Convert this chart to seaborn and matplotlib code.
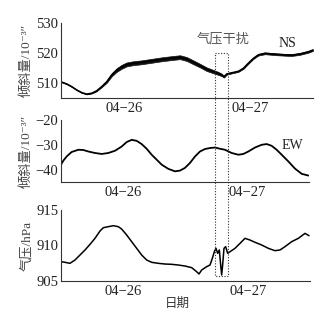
import numpy as np
import pandas as pd
import matplotlib
matplotlib.use("Agg")
import matplotlib.pyplot as plt
from matplotlib.lines import Line2D
import seaborn as sns

# ---- data (hours since 04-26 00:00) ----
ns_hours = [0, 1.08, 2.03, 2.98, 3.94, 4.89, 5.84, 6.79, 7.75, 8.70, 9.65, 10.60,
            11.56, 12.51, 13.78, 15.37, 17.27, 19.17, 21.08, 22.67, 23.94, 25.21,
            26.48, 27.75, 29.02, 29.97, 30.60, 31.05, 31.55, 32.51, 33.78, 34.73,
            35.68, 36.63, 37.59, 38.86, 40.76, 42.67, 43.94, 45.52, 47.11, 48.0]
ns_values = [510.4, 509.7, 508.8, 507.7, 506.8, 506.3, 506.6, 507.4, 508.8, 510.4,
             512.7, 514.3, 515.4, 516.2, 516.6, 516.9, 517.4, 517.9, 518.3, 518.6,
             518.0, 516.9, 515.8, 514.6, 513.8, 513.2, 512.7, 512.1, 513.0, 513.4,
             513.9, 514.9, 516.6, 518.2, 519.4, 519.9, 519.6, 519.4, 519.3, 519.7,
             520.4, 521.0]
ns_spread = [0.1, 0.1, 0.1, 0.1, 0.1, 0.1, 0.1, 0.15, 0.2, 0.35, 0.5, 0.6,
             0.65, 0.65, 0.65, 0.65, 0.65, 0.65, 0.65, 0.65, 0.65, 0.65,
             0.6, 0.6, 0.55, 0.5, 0.4, 0.3, 0.25, 0.2, 0.2, 0.2,
             0.2, 0.2, 0.25, 0.3, 0.3, 0.3, 0.3, 0.3, 0.3, 0.3]

ew_hours = [0, 0.45, 1.10, 2.06, 3.36, 4.32, 5.29, 6.58, 7.87, 9.16, 10.45, 11.74,
            12.71, 13.68, 14.65, 15.61, 16.58, 17.55, 18.52, 19.48, 20.77, 22.06,
            23.03, 24.0, 24.97, 25.94, 26.9, 27.87, 28.84, 29.81, 30.77, 31.74,
            33.03, 34.32, 35.29, 36.26, 37.55, 38.84, 39.81, 40.77, 41.74, 42.71,
            44.0, 45.29, 46.58, 47.87]
ew_values = [-38.0, -36.4, -34.7, -32.9, -32.0, -32.1, -32.7, -33.3, -33.7, -33.3,
             -32.4, -30.7, -28.9, -28.0, -28.4, -29.7, -31.6, -34.0, -36.0, -38.0,
             -39.7, -40.7, -40.4, -39.3, -37.3, -34.7, -32.7, -31.7, -31.3, -31.1,
             -31.6, -32.0, -33.3, -34.0, -33.7, -32.7, -31.1, -30.0, -29.7, -30.4,
             -32.0, -34.0, -36.7, -39.6, -41.7, -42.4]

p_hours = [0.0, 0.77, 1.73, 2.70, 3.66, 4.63, 5.59, 6.55, 7.52, 8.16, 9.12, 10.09,
           11.05, 11.69, 12.66, 13.62, 14.59, 15.55, 16.51, 17.48, 18.76, 20.05,
           21.33, 22.62, 23.90, 25.19, 26.15, 26.60, 27.12, 28.08, 28.72, 29.17,
           29.56, 29.88, 30.20, 30.52, 30.78, 30.97, 31.16, 31.42, 31.74, 32.13,
           32.58, 33.54, 34.51, 35.47, 36.43, 37.40, 38.68, 39.97, 41.25, 42.22,
           43.18, 44.47, 45.75, 47.04, 47.81]
p_values = [907.72, 907.63, 907.49, 907.96, 908.66, 909.37, 910.16, 911.01, 912.04,
            912.51, 912.65, 912.79, 912.65, 912.32, 911.48, 910.54, 909.60, 908.66,
            907.96, 907.63, 907.49, 907.39, 907.35, 907.25, 907.11, 906.88, 906.31,
            905.99, 906.55, 907.02, 907.25, 908.19, 909.13, 909.60, 908.90, 909.37,
            907.25, 905.85, 907.25, 909.60, 909.84, 908.90, 909.13, 909.60, 910.30,
            911.01, 910.77, 910.45, 910.07, 909.60, 909.27, 909.37, 909.84, 910.54,
            911.01, 911.71, 911.38]

day_ticks = [0, 24, 48]
day_centers = [12, 36]
day_labels = ["04\u221226", "04\u221227"]

# disturbance box: hours and vertical extent (NS top value, pressure bottom value)
box_hours = [29.33, 31.8]
box_top_ns = 520
box_bottom_p = 905.7

sns.set_style("white")
serif = ["Liberation Serif", "Noto Sans CJK SC", "DejaVu Serif"]
cjk = ["Noto Sans CJK SC", "DejaVu Sans"]
plt.rcParams['font.family'] = serif

fig = plt.figure(figsize=(3.33, 3.13), dpi=100)
W, H = 333, 313


def add_ax(left, top, right, bottom):
    return fig.add_axes([left / W, 1 - bottom / H, (right - left) / W, (bottom - top) / H])


ax1 = add_ax(61, 23, 313, 98)
ax2 = add_ax(61, 120, 309, 182)
ax3 = add_ax(61, 210, 310, 281)

ns_df = pd.DataFrame({"h": ns_hours, "v": ns_values})
ew_df = pd.DataFrame({"h": ew_hours, "v": ew_values})
p_df = pd.DataFrame({"h": p_hours, "v": p_values})

ns_lo = np.array(ns_values) - np.array(ns_spread)
ns_hi = np.array(ns_values) + np.array(ns_spread)
ax1.fill_between(ns_hours, ns_lo, ns_hi, color="#111", lw=0.5)
sns.lineplot(data=ns_df, x="h", y="v", ax=ax1, color="black", lw=1.1)
sns.lineplot(data=ew_df, x="h", y="v", ax=ax2, color="black", lw=1.3)
sns.lineplot(data=p_df, x="h", y="v", ax=ax3, color="black", lw=1.1)

ax1.set_ylim(505, 530)
ax1.set_yticks([510, 520, 530])
ax2.set_ylim(-45, -20)
ax2.set_yticks([-40, -30, -20])
ax2.set_yticklabels(["\u221240", "\u221230", "\u221220"])
ax3.set_ylim(905, 915)
ax3.set_yticks([905, 910, 915])

for ax in (ax1, ax2, ax3):
    ax.set_xlim(0, 48)
    ax.set_xticks(day_ticks)
    ax.set_xticklabels([])
    ax.set_xticks(day_centers, minor=True)
    ax.set_xticklabels(day_labels, minor=True)
    ax.tick_params(axis="x", which="major", direction="in", length=4, width=0.8, color="#333")
    ax.tick_params(axis="x", which="minor", length=0, pad=3, labelsize=10.5, labelcolor="#222")
    ax.tick_params(axis="y", direction="in", length=3, width=0.8, color="#333",
                   labelsize=10.5, labelcolor="#222", pad=2)
    for side in ("top", "right"):
        ax.spines[side].set_visible(False)
    for side in ("left", "bottom"):
        ax.spines[side].set_color("#333")
        ax.spines[side].set_linewidth(0.8)
    ax.set_xlabel("")
    ax.set_ylabel("")

ax1.set_ylabel("倾斜量/10⁻³″", fontsize=9.5, color="#444", family=serif)
ax2.set_ylabel("倾斜量/10⁻³″", fontsize=9.5, color="#444", family=serif)
ax3.set_ylabel("气压/hPa", fontsize=9.5, color="#444", family=serif)
for ax in (ax1, ax2, ax3):
    ax.yaxis.set_label_coords(-0.112, 0.5)
ax3.set_xlabel("日期", fontsize=9, color="#333", family=cjk)
ax3.xaxis.set_label_coords(0.466, -0.22)

ax1.text(43.2, 523.0, "NS", fontsize=10, ha="center", va="center", color="#222")
ax2.text(44.7, -30.4, "EW", fontsize=10, ha="center", va="center", color="#222")
ax1.text(30.9, 524.7, "气压干扰", fontsize=9.5, ha="center", va="center",
         color="#555", family=cjk)

# dotted box spanning all three panels
to_fig = fig.transFigure.inverted()
x0, y_top = to_fig.transform(ax1.transData.transform((box_hours[0], box_top_ns)))
x1, _ = to_fig.transform(ax1.transData.transform((box_hours[1], box_top_ns)))
_, y_bot = to_fig.transform(ax3.transData.transform((box_hours[0], box_bottom_p)))
box = Line2D([x0, x1, x1, x0, x0], [y_top, y_top, y_bot, y_bot, y_top],
             transform=fig.transFigure, color="#333", lw=0.8, ls=(0, (1, 1.5)))
fig.add_artist(box)

fig.savefig("out.png", dpi=100)
